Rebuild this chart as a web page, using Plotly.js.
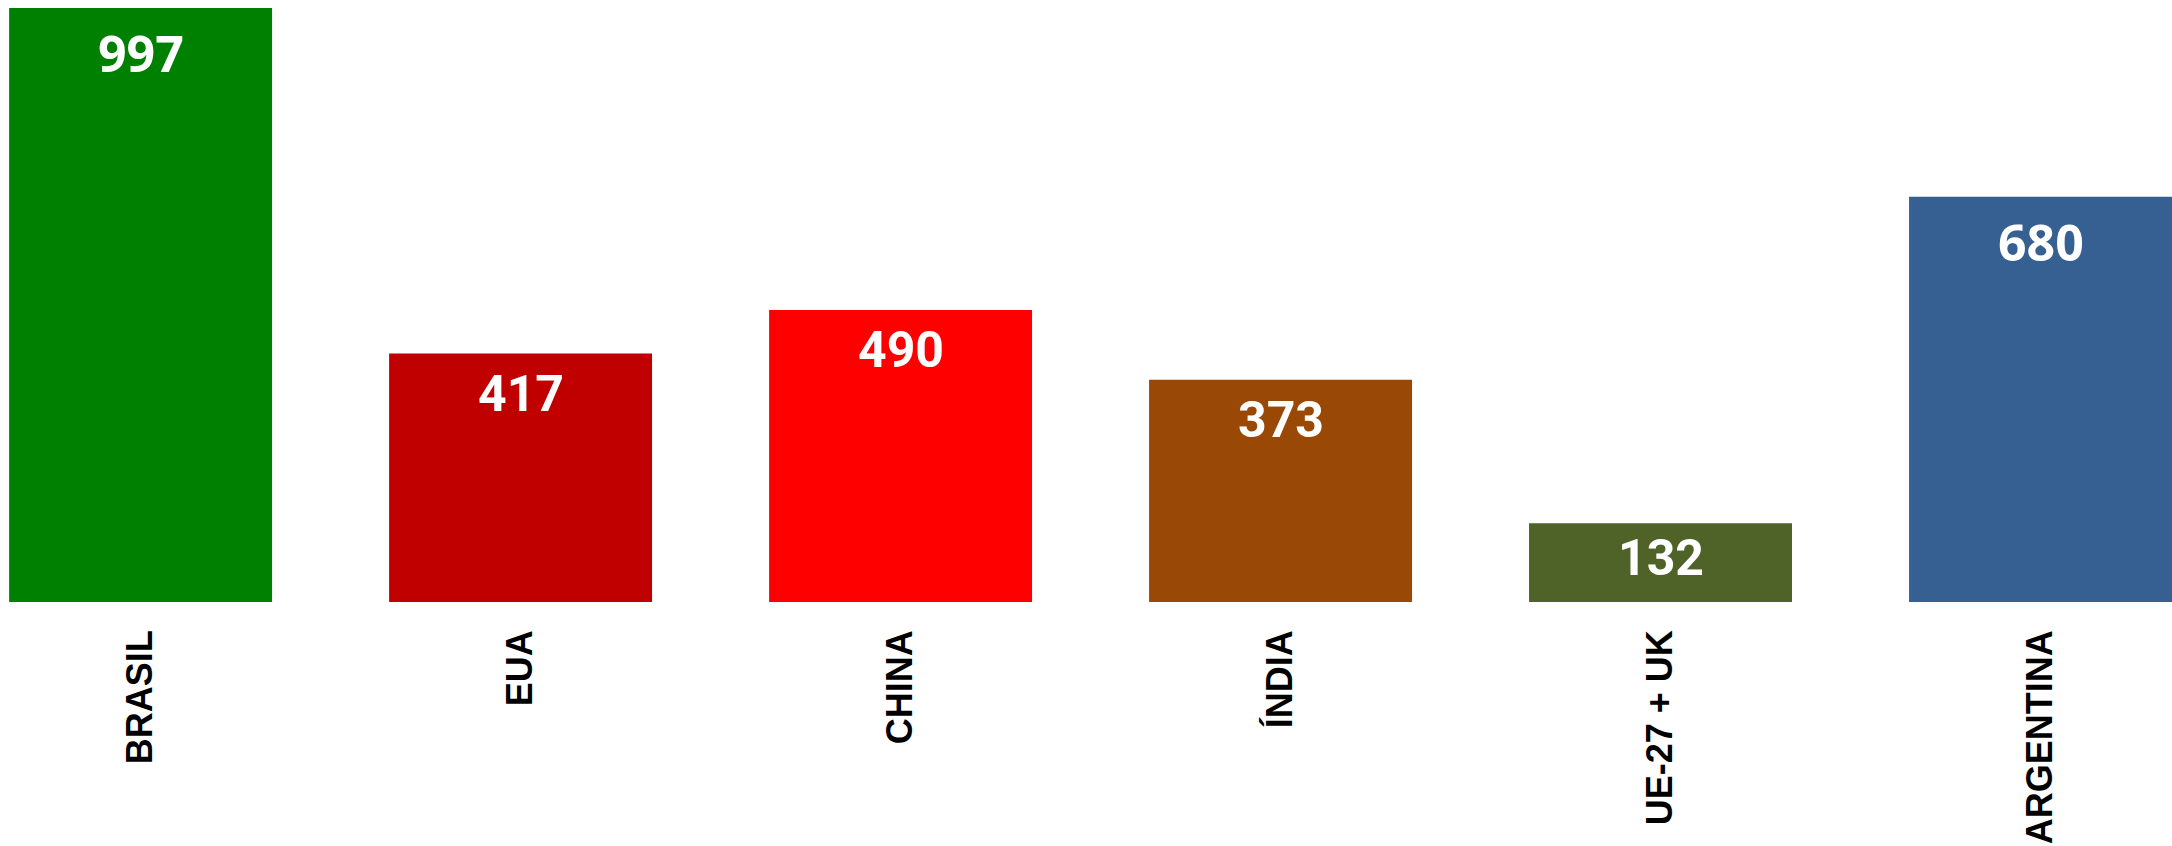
<!DOCTYPE html>
<html>
<head>
<meta charset="utf-8">
<script src="https://cdn.plot.ly/plotly-3.0.1.min.js"></script>
<style>html,body{margin:0;padding:0;background:#fff;}#chart{width:2172px;height:846px;}</style>
</head>
<body>
<div id="chart"></div>
<script>
const categories = ["BRASIL", "EUA", "CHINA", "ÍNDIA", "UE-27 + UK", "ARGENTINA"];
const values = [997, 417, 490, 373, 132, 680];
const barColors = ["#008000", "#C00000", "#FF0000", "#994806", "#4F6228", "#366092"];
const valueFonts = ["Open Sans", "Roboto", "Roboto", "Roboto", "Roboto", "Open Sans"];

const W = 2172, H = 846;
const margin = {l: 0, r: 0, t: 0, b: 244};
const yMax = 1010.4;
const plotH = H - margin.t - margin.b;
const pxPerUnit = plotH / yMax;

const trace = {
  type: "bar",
  x: categories,
  y: values,
  marker: {color: barColors, line: {width: 0}},
  hoverinfo: "x+y",
  showlegend: false
};

const textPx = 36;
const annotations = values.map((v, i) => {
  const barPx = v * pxPerUnit;
  const off = Math.min(27, (barPx - textPx) / 2);
  return {
    x: categories[i], y: v, xref: "x", yref: "y",
    text: String(v), showarrow: false,
    yanchor: "top", xanchor: "center",
    yshift: -(off - 18),
    font: {family: valueFonts[i], size: 50, color: "#ffffff", weight: "bold"}
  };
});

const layout = {
  width: W, height: H,
  margin: margin,
  paper_bgcolor: "#ffffff",
  plot_bgcolor: "#ffffff",
  bargap: 0.308,
  xaxis: {
    range: [-0.370, 5.346],
    showgrid: false, zeroline: false, showline: false,
    ticks: "", tickangle: -90,
    ticklabelstandoff: 20,
    tickfont: {family: "Liberation Sans", size: 36, color: "#000000", weight: "bold"}
  },
  yaxis: {
    range: [0, yMax],
    showgrid: false, zeroline: false, showline: false,
    showticklabels: false, ticks: ""
  },
  annotations: annotations
};

Plotly.newPlot("chart", [trace], layout, {displayModeBar: false, staticPlot: true});
</script>
</body>
</html>
